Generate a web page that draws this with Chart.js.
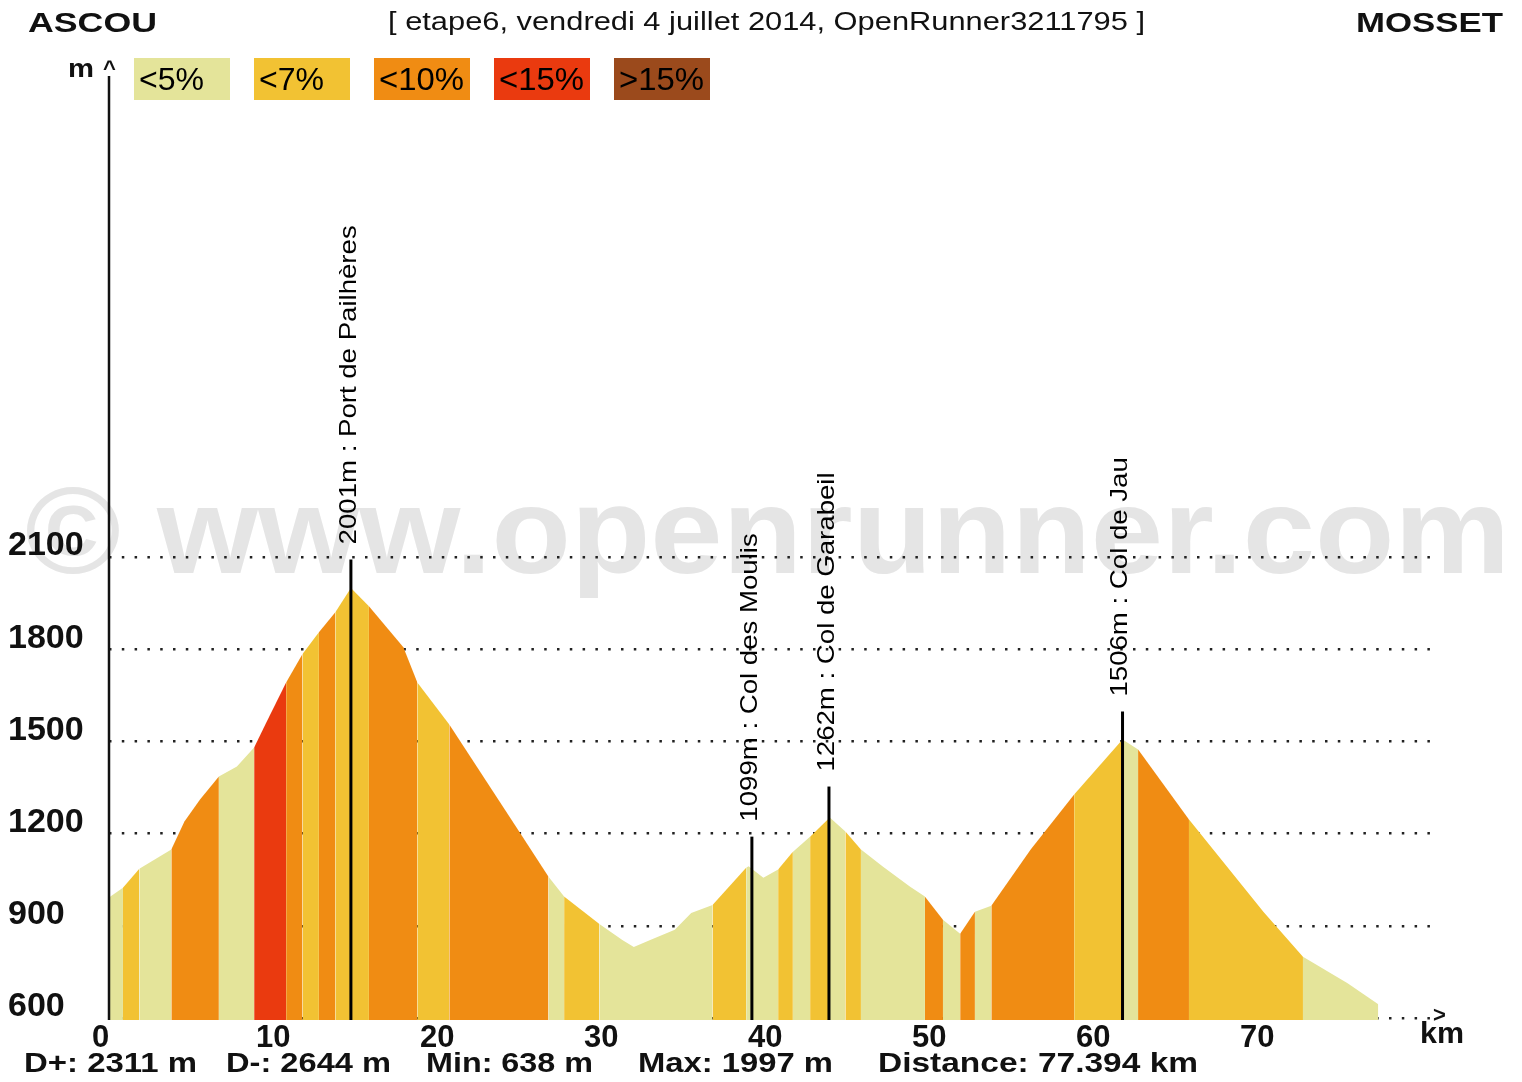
<!DOCTYPE html>
<html>
<head>
<meta charset="utf-8">
<script src="https://cdn.jsdelivr.net/npm/chart.js@4.4.1/dist/chart.umd.min.js"></script>
<style>
  html, body { margin: 0; padding: 0; background: #fff; }
  canvas { display: block; }
</style>
</head>
<body>
<canvas id="profile" width="1522" height="1082"></canvas>
<script>
// profile points (km, m) and the grade class of the stretch starting at each point
const distKm = [0, 0.85, 1.85, 3.8, 4.6, 5.55, 6.7, 7.8, 8.85, 9.6,
  10.8, 11.8, 12.8, 13.8, 14.75, 15.85, 17.95, 18.8, 20.75, 24.75,
  26.8, 27.75, 29.9, 31.3, 32.0, 33.0, 34.5, 35.5, 36.8, 38.85,
  39.0, 39.9, 40.8, 41.7, 42.75, 43.95, 44.9, 45.85, 47.2, 48.85,
  49.75, 50.85, 51.9, 52.8, 53.8, 56.2, 58.85, 61.8, 62.75, 65.85,
  70.4, 72.8, 75.5, 77.394];
const elevM = [992, 1024, 1086, 1148, 1239, 1311, 1386, 1418, 1480, 1562,
  1692, 1784, 1855, 1920, 1999, 1940, 1806, 1692, 1555, 1228,
  1060, 995, 906, 854, 831, 854, 887, 942, 968, 1089,
  1094, 1056, 1083, 1141, 1190, 1252, 1207, 1148, 1092, 1027,
  995, 920, 874, 946, 965, 1148, 1327, 1506, 1474, 1246,
  945, 799, 714, 645];
const gradeClass = [0, 1, 0, 2, 2, 2, 0, 0, 3, 3,
  2, 1, 2, 1, 1, 2, 2, 1, 2, 2,
  0, 1, 0, 0, 0, 0, 0, 0, 1, 0,
  0, 0, 1, 0, 1, 0, 1, 0, 0, 0,
  2, 0, 2, 0, 2, 2, 1, 0, 2, 1,
  1, 0, 0];

const gradeLabels = ['<5%', '<7%', '<10%', '<15%', '>15%'];
const gradeColors = ['#e4e49a', '#f2c233', '#f08c13', '#ea3a0f', '#9b4a1c'];

const xTicks = [0, 10, 20, 30, 40, 50, 60, 70];
const yTicks = [600, 900, 1200, 1500, 1800, 2100];

const passKm = [14.75, 39.2, 43.9, 61.8];
const passElev = [2001, 1099, 1262, 1506];
const passNames = ['Port de Pailhères', 'Col des Moulis', 'Col de Garabeil', 'Col de Jau'];

const startName = 'ASCOU';
const finishName = 'MOSSET';
const subtitle = '[ etape6, vendredi 4 juillet 2014, OpenRunner3211795 ]';
const stats = ['D+: 2311 m', 'D-: 2644 m', 'Min: 638 m', 'Max: 1997 m', 'Distance: 77.394 km'];

const FONT = '"Liberation Sans", Arial, sans-serif';

// draw text starting at x, stretched to width w
function fitText(ctx, text, x, y, w) {
  const nat = ctx.measureText(text).width;
  ctx.save();
  ctx.translate(x, y);
  ctx.scale(w / nat, 1);
  ctx.textAlign = 'left';
  ctx.fillText(text, 0, 0);
  ctx.restore();
}

const decor = {
  id: 'decor',
  beforeDraw(chart) {
    const ctx = chart.ctx;
    ctx.save();
    ctx.fillStyle = '#fff';
    ctx.fillRect(0, 0, chart.width, chart.height);
    // watermark
    ctx.font = 'bold 122px ' + FONT;
    ctx.fillStyle = '#e5e5e5';
    ctx.textBaseline = 'alphabetic';
    fitText(ctx, '© www.openrunner.com', 25, 573, 1485);
    ctx.restore();
  },
  afterDatasetsDraw(chart) {
    const ctx = chart.ctx;
    const x = chart.scales.x, y = chart.scales.y;
    const area = chart.chartArea;
    ctx.save();

    // y axis line
    ctx.strokeStyle = '#111';
    ctx.lineWidth = 2.5;
    ctx.beginPath();
    ctx.moveTo(area.left, area.top);
    ctx.lineTo(area.left, area.bottom);
    ctx.stroke();

    // pass markers
    passKm.forEach((km, i) => {
      const px = x.getPixelForValue(km);
      const top = y.getPixelForValue(passElev[i]) - 28;
      ctx.strokeStyle = '#000';
      ctx.lineWidth = 3;
      ctx.beginPath();
      ctx.moveTo(px, area.bottom);
      ctx.lineTo(px, top);
      ctx.stroke();

      ctx.save();
      ctx.translate(px - 2, top - 15);
      ctx.rotate(-Math.PI / 2);
      ctx.font = '24px ' + FONT;
      ctx.fillStyle = '#000';
      ctx.textBaseline = 'middle';
      ctx.scale(1.15, 1);
      ctx.fillText(passElev[i] + 'm : ' + passNames[i], 0, 0);
      ctx.restore();
    });

    // header
    ctx.fillStyle = '#111';
    ctx.textBaseline = 'middle';
    ctx.font = 'bold 28px ' + FONT;
    fitText(ctx, startName, 28, 24, 129);
    fitText(ctx, finishName, 1356, 24, 147);
    ctx.font = '26px ' + FONT;
    fitText(ctx, subtitle, 388, 23, 757);

    // legend
    gradeLabels.forEach((lab, i) => {
      const bx = 134 + i * 120;
      ctx.fillStyle = gradeColors[i];
      ctx.fillRect(bx, 58, 96, 42);
      ctx.fillStyle = '#000';
      ctx.font = '31px ' + FONT;
      fitText(ctx, lab, bx + 5, 81, lab.length === 3 ? 65 : 85);
    });

    // axis units
    ctx.fillStyle = '#111';
    ctx.font = 'bold 26px ' + FONT;
    fitText(ctx, 'm', 68, 70, 26);
    ctx.font = 'bold 22px ' + FONT;
    ctx.fillText('^', 103, 70);
    ctx.font = 'bold 30px ' + FONT;
    fitText(ctx, 'km', 1420, 1035, 44);
    ctx.font = 'bold 22px ' + FONT;
    ctx.fillText('>', 1433, 1016);

    // stats line
    ctx.font = 'bold 28px ' + FONT;
    const sx = [24, 226, 426, 638, 878];
    const sw = [173, 165, 167, 195, 320];
    stats.forEach((s, i) => fitText(ctx, s, sx[i], 1064, sw[i]));

    ctx.restore();
  }
};

new Chart(document.getElementById('profile'), {
  type: 'line',
  data: {
    datasets: [{
      data: distKm.map((d, i) => ({ x: d, y: elevM[i] })),
      borderWidth: 0,
      pointRadius: 0,
      tension: 0,
      fill: 'start',
      backgroundColor: gradeColors[0],
      segment: {
        backgroundColor: c => gradeColors[gradeClass[c.p0DataIndex]]
      }
    }]
  },
  options: {
    responsive: false,
    animation: false,
    layout: { padding: { left: 8, top: 76, right: 90, bottom: 0 } },
    plugins: {
      legend: { display: false },
      tooltip: { enabled: false }
    },
    scales: {
      x: {
        type: 'linear',
        min: 0,
        max: 80.67,
        afterBuildTicks: s => { s.ticks = xTicks.map(v => ({ value: v })); },
        afterFit: s => { s.height = 62; },
        grid: { display: false, drawTicks: false },
        border: { display: false },
        ticks: {
          align: 'start',
          labelOffset: -17,
          padding: 0,
          maxRotation: 0,
          color: '#111',
          callback: v => String(v),
          font: { family: FONT, size: 31, weight: 'bold' }
        }
      },
      y: {
        min: 593.5,
        max: 3665,
        afterBuildTicks: s => { s.ticks = yTicks.map(v => ({ value: v })); },
        afterFit: s => { s.width = 101; },
        grid: { color: '#222', lineWidth: 2.5, drawTicks: false },
        border: { display: false, dash: [2.5, 10.3] },
        ticks: {
          crossAlign: 'far',
          labelOffset: -11,
          color: '#111',
          callback: v => String(v),
          font: { family: FONT, size: 34, weight: 'bold' }
        }
      }
    }
  },
  plugins: [decor]
});
</script>
</body>
</html>
